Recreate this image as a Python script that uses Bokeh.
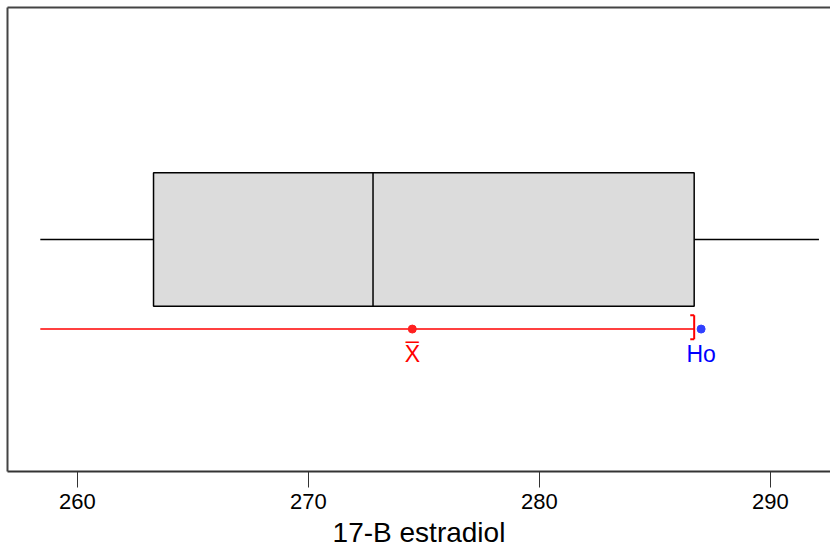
from bokeh.plotting import figure
from bokeh.models import LinearAxis, FixedTicker, Range1d
from bokeh.core.properties import value
from bokeh.embed import file_html
from bokeh.resources import INLINE

# ---- data ----
stat_names = ["min", "q1", "median", "q3", "max"]
stat_values = [258.4, 263.3, 272.8, 286.7, 292.1]
sample_mean = 274.5
ci_lower_shown = 258.4
ci_upper = 286.7
h0_value = 287.0
tick_values = [260, 270, 280, 290]
x_label = "17-B estradiol"

vmin, q1, med, q3, vmax = stat_values

FONT = "Liberation Sans"

p = figure(width=830, height=550, output_backend="svg", toolbar_location=None,
           x_range=Range1d(256.98, 292.6), y_range=Range1d(0, 1),
           min_border_left=7, min_border_right=0, min_border_top=7, min_border_bottom=0,
           x_axis_location=None, y_axis_location=None)
p.outline_line_color = None
p.xgrid.visible = False
p.ygrid.visible = False
p.background_fill_color = "white"
p.border_fill_color = "white"

# bottom axis
xa = LinearAxis(ticker=FixedTicker(ticks=tick_values), axis_label=x_label)
xa.axis_line_color = "#333333"
xa.axis_line_width = 2
xa.major_tick_in = 0
xa.major_tick_out = 16
xa.major_tick_line_color = "#333333"
xa.minor_tick_line_color = None
xa.major_label_text_font = FONT
xa.major_label_text_font_size = "22px"
xa.major_label_text_color = "black"
xa.major_label_standoff = 6
xa.axis_label_text_font = FONT
xa.axis_label_text_font_size = "28px"
xa.axis_label_text_font_style = "normal"
xa.axis_label_text_color = "black"
xa.axis_label_standoff = 5
p.add_layout(xa, "below")

# left and top frame lines
for loc in ("left", "above"):
    ax = LinearAxis(ticker=FixedTicker(ticks=[]))
    ax.axis_line_color = "#444444"
    ax.axis_line_width = 2
    ax.major_tick_out = 0
    ax.major_tick_in = 0
    ax.minor_tick_out = 0
    ax.minor_tick_in = 0
    ax.major_label_standoff = 0
    ax.major_label_text_font_size = "0px"
    p.add_layout(ax, loc)

# box plot
yc = 0.5
hh = 0.1437
p.segment(x0=[vmin, q3], y0=[yc, yc], x1=[q1, vmax], y1=[yc, yc],
          line_color="black", line_width=1.5)
p.quad(left=[q1], right=[q3], bottom=[yc - hh], top=[yc + hh],
       fill_color="#dcdcdc", line_color="black", line_width=1.5)
p.segment(x0=[med], y0=[yc - hh], x1=[med], y1=[yc + hh],
          line_color="black", line_width=1.5)

# confidence interval / mean / H0
yci = 0.307
p.segment(x0=[ci_lower_shown], y0=[yci], x1=[ci_upper], y1=[yci],
          line_color="#ff0000", line_width=1.5)
# bracket "]"
p.segment(x0=[ci_upper], y0=[yci - 0.022], x1=[ci_upper], y1=[yci + 0.03],
          line_color="#ff0000", line_width=2)
p.segment(x0=[ci_upper - 0.17, ci_upper - 0.17], y0=[yci - 0.022, yci + 0.03],
          x1=[ci_upper, ci_upper], y1=[yci - 0.022, yci + 0.03],
          line_color="#ff0000", line_width=2)
p.scatter(x=[sample_mean], y=[yci], size=8, color="#ff2020")
p.scatter(x=[h0_value], y=[yci], size=8, color="#3040ff")

p.text(x=[sample_mean], y=[0.253], text=["X\u0305"], text_color="#ff0000",
       text_font=value(FONT), text_font_size="23px", text_align="center",
       text_baseline="middle")
p.text(x=[h0_value], y=[0.253], text=["Ho"], text_color="#0000ff",
       text_font=value(FONT), text_font_size="23px", text_align="center",
       text_baseline="middle")

open("out.html", "w").write(file_html(p, INLINE))
